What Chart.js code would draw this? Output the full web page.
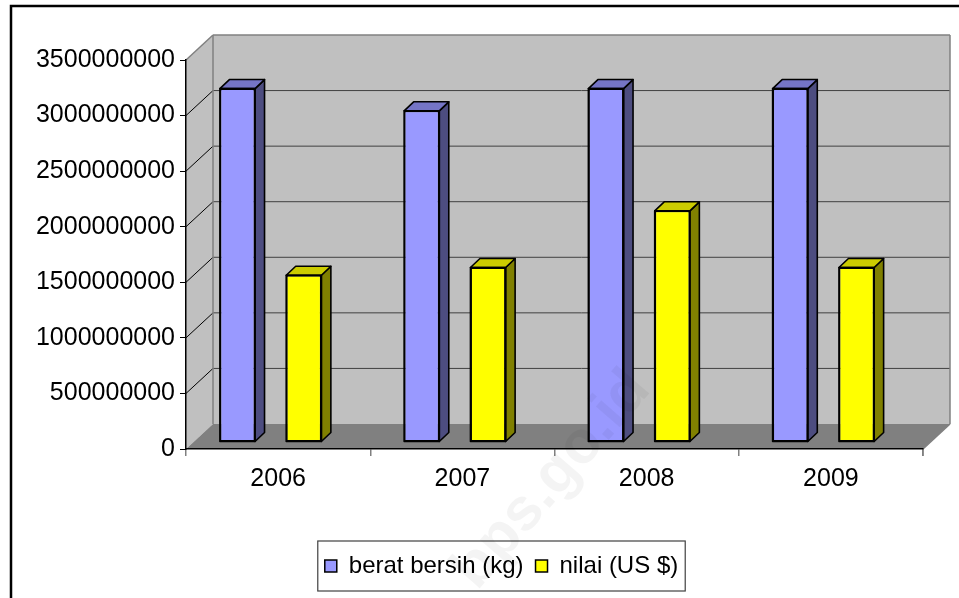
<!DOCTYPE html>
<html>
<head>
<meta charset="utf-8">
<script src="https://cdn.jsdelivr.net/npm/chart.js@4.4.1/dist/chart.umd.min.js"></script>
<style>
  html, body { margin: 0; padding: 0; background: #ffffff; }
  #wrap { width: 959px; height: 598px; position: relative; }
</style>
</head>
<body>
<div id="wrap"><canvas id="c" width="959" height="598"></canvas></div>
<script>
// ---- data ----
const categories = ['2006', '2007', '2008', '2009'];
const seriesNames = ['berat bersih (kg)', 'nilai (US $)'];
const beratBersih = [3180000000, 2980000000, 3180000000, 3180000000];
const nilai = [1500000000, 1570000000, 2080000000, 1570000000];
const yMax = 3500000000;
const yStep = 500000000;
const watermarkText = 'bps.go.id';

// ---- style / geometry ----
const FONT = '"Liberation Sans", Arial, sans-serif';
const DEPTH = { x: 27, y: -25 };      // wall depth
const BAR_SHIFT = { x: -7.5, y: -7 }; // bar row depth
const BAR_DEPTH = { x: 9.5, y: -9 };  // bar box depth
const LEGEND_SHIFT = 40;
const faces = [
  { front: '#9999FF', side: '#4D4D80', top: '#7575C6' },
  { front: '#FFFF00', side: '#808000', top: '#CCCC00' }
];

function poly(ctx, pts, fill, stroke, lw) {
  ctx.beginPath();
  ctx.moveTo(pts[0][0], pts[0][1]);
  for (let i = 1; i < pts.length; i++) ctx.lineTo(pts[i][0], pts[i][1]);
  ctx.closePath();
  if (fill) { ctx.fillStyle = fill; ctx.fill(); }
  if (stroke) { ctx.strokeStyle = stroke; ctx.lineWidth = lw || 1; ctx.stroke(); }
}
function line(ctx, x1, y1, x2, y2, color, lw) {
  ctx.beginPath();
  ctx.moveTo(x1, y1); ctx.lineTo(x2, y2);
  ctx.strokeStyle = color; ctx.lineWidth = lw || 1; ctx.stroke();
}

const threeD = {
  id: 'threeD',
  afterLayout(chart) {
    const lg = chart.legend;
    if (lg) { lg.left += LEGEND_SHIFT; lg.right += LEGEND_SHIFT; }
  },
  beforeDraw(chart) {
    const ctx = chart.ctx;
    const { left: L, right: R, top: T, bottom: B } = chart.chartArea;
    const dx = DEPTH.x, dy = DEPTH.y;
    ctx.save();
    ctx.fillStyle = '#ffffff';
    ctx.fillRect(0, 0, chart.width, chart.height);
    // side wall
    poly(ctx, [[L, T], [L + dx, T + dy], [L + dx, B + dy], [L, B]], '#C0C0C0');
    // back wall
    poly(ctx, [[L + dx, T + dy], [R + dx, T + dy], [R + dx, B + dy], [L + dx, B + dy]], '#C0C0C0');
    // floor
    poly(ctx, [[L, B], [R, B], [R + dx, B + dy], [L + dx, B + dy]], '#808080');
    // gridlines
    const ys = chart.scales.y;
    ys.ticks.forEach(t => {
      if (t.value <= 0 || t.value >= yMax) return;
      const yf = ys.getPixelForValue(t.value);
      line(ctx, L, yf, L + dx, yf + dy, '#000000', 1);
      line(ctx, L + dx, yf + dy, R + dx, yf + dy, '#404040', 1);
    });
    // wall edges
    line(ctx, L, T, L + dx, T + dy, '#808080', 1.5);
    line(ctx, L + dx, T + dy, R + dx, T + dy, '#808080', 1.5);
    line(ctx, R + dx, T + dy, R + dx, B + dy, '#808080', 1.5);
    line(ctx, L + dx, T + dy, L + dx, B + dy, '#808080', 1.5);
    line(ctx, R, B, R + dx, B + dy, '#808080', 1.5);
    line(ctx, R, B, R, B + 7, '#808080', 1.5);
    ctx.restore();
  },
  beforeDatasetDraw(chart) {
    chart.ctx.save();
    chart.ctx.translate(BAR_SHIFT.x, BAR_SHIFT.y);
  },
  afterDatasetDraw(chart, args) {
    const ctx = chart.ctx;
    const meta = args.meta;
    const f = faces[args.index];
    meta.data.forEach(bar => {
      const p = bar.getProps(['x', 'y', 'base', 'width'], true);
      const xl = p.x - p.width / 2, xr = p.x + p.width / 2;
      const top = Math.min(p.y, p.base), bot = Math.max(p.y, p.base);
      const dx = BAR_DEPTH.x, dy = BAR_DEPTH.y;
      ctx.lineJoin = 'round';
      poly(ctx, [[xr, top], [xr + dx, top + dy], [xr + dx, bot + dy], [xr, bot]], f.side, '#000000', 1.6);
      poly(ctx, [[xl, top], [xl + dx, top + dy], [xr + dx, top + dy], [xr, top]], f.top, '#000000', 1.6);
      ctx.beginPath();
      ctx.rect(xl, top, p.width, bot - top);
      ctx.strokeStyle = '#000000'; ctx.lineWidth = 1.6; ctx.stroke();
    });
    ctx.restore();
  },
  afterDraw(chart) {
    const ctx = chart.ctx;
    ctx.save();
    // legend frame
    const lg = chart.legend;
    if (lg && lg.legendHitBoxes && lg.legendHitBoxes.length) {
      const hb = lg.legendHitBoxes;
      const x1 = hb[0].left - 7;
      const last = hb[hb.length - 1];
      const x2 = last.left + last.width + 7;
      const cy = hb[0].top + hb[0].height / 2;
      ctx.strokeStyle = '#404040';
      ctx.lineWidth = 1.2;
      ctx.strokeRect(x1, cy - 25, x2 - x1, 50);
    }
    // watermark
    ctx.translate(552, 480);
    ctx.rotate(-49 * Math.PI / 180);
    ctx.font = 'bold 60px ' + FONT;
    ctx.textAlign = 'center';
    ctx.textBaseline = 'middle';
    ctx.fillStyle = 'rgba(0,0,0,0.045)';
    ctx.fillText(watermarkText, 0, 0);
    ctx.restore();
    // outer frame
    ctx.save();
    ctx.strokeStyle = '#000000';
    ctx.lineWidth = 2.5;
    ctx.strokeRect(11, 6, 1200, 1200);
    ctx.restore();
  }
};

Chart.defaults.font.family = FONT;
Chart.defaults.color = '#000000';

const PAD_BOTTOM = 10;
new Chart(document.getElementById('c'), {
  type: 'bar',
  data: {
    labels: categories,
    datasets: [
      { label: seriesNames[0], data: beratBersih, backgroundColor: faces[0].front, borderColor: '#000000', borderWidth: 1.5, borderSkipped: false, clip: false },
      { label: seriesNames[1], data: nilai, backgroundColor: faces[1].front, borderColor: '#000000', borderWidth: 1.5, borderSkipped: false, clip: false }
    ]
  },
  options: {
    responsive: false,
    animation: false,
    events: [],
    layout: { padding: { left: 0, right: 36, top: 60, bottom: PAD_BOTTOM } },
    datasets: { bar: { categoryPercentage: 0.72, barPercentage: 0.53 } },
    plugins: {
      tooltip: { enabled: false },
      legend: {
        position: 'bottom',
        labels: { font: { size: 24 }, boxWidth: 12, boxHeight: 12, padding: 12, color: '#000' }
      }
    },
    scales: {
      x: {
        grid: { display: true, drawOnChartArea: false, drawTicks: true, tickLength: 7, color: '#808080', lineWidth: 1.5, offset: true },
        border: { display: true, color: '#000000', width: 1.5 },
        ticks: { font: { size: 25 }, padding: 8, maxRotation: 0 },
        afterFit(s) { s.height = 598 - 449 - (s.chart.legend ? s.chart.legend.height : 0) - PAD_BOTTOM; }
      },
      y: {
        min: 0, max: yMax,
        grid: { display: true, drawOnChartArea: false, drawTicks: true, tickLength: 6, color: '#000000', lineWidth: 1 },
        border: { display: true, color: '#000000', width: 1.5 },
        ticks: { stepSize: yStep, font: { size: 25 }, padding: 5, callback: v => String(v) },
        afterFit(s) { s.width = 186; }
      }
    }
  },
  plugins: [threeD]
});
</script>
</body>
</html>
